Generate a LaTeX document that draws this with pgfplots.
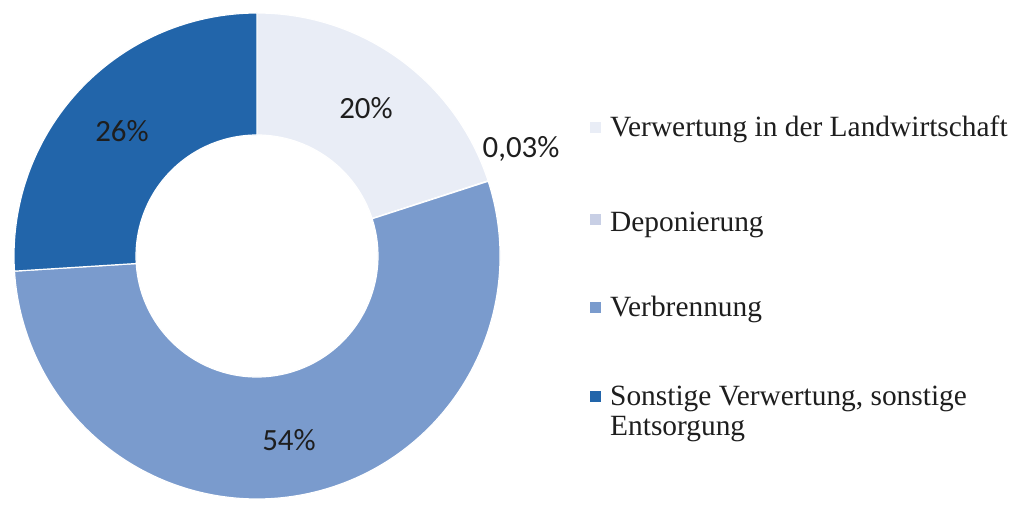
\documentclass[border=0pt]{standalone}
\usepackage{pgfplots}
\pgfplotsset{compat=1.18}
\usepackage{pgfplotstable}
\usepackage{fontspec}
\setmainfont{Liberation Serif}
\newfontfamily\calib{Carlito}
\definecolor{c1}{RGB}{233,237,246}
\definecolor{c2}{RGB}{200,207,229}
\definecolor{c3}{RGB}{122,155,205}
\definecolor{c4}{RGB}{34,101,170}
\definecolor{txt}{RGB}{30,30,30}

% value; colour; label text; label position (axis units = px, y up)
\pgfplotstableread[col sep=semicolon]{
value;color;label;lx;ly
20;c1;20;366;380
0.03;c2;0,03;521;341
54;c3;54;289;49
26;c4;26;122;357
}\data

\begin{document}
\begin{tikzpicture}
\begin{axis}[
  width=1018bp, height=499bp, scale only axis,
  xmin=0, xmax=1018, ymin=0, ymax=499,
  hide axis, clip=false,
]
\addplot[draw=none] coordinates {(0,0) (1018,499)};
\pgfplotsextra{
  \coordinate (C) at (axis cs:257,243);
  \pgfplotstablegetrowsof{\data}
  \pgfmathtruncatemacro\nrows{\pgfplotsretval-1}
  \def\total{0}
  \pgfplotsforeachungrouped \i in {0,...,\nrows}{%
    \pgfplotstablegetelem{\i}{value}\of{\data}\let\v\pgfplotsretval
    \pgfmathsetmacro\total{\total+\v}%
  }
  \pgfmathsetmacro\degper{360/\total}%
  \def\cum{0}
  \pgfplotsforeachungrouped \i in {0,...,\nrows}{%
    \pgfplotstablegetelem{\i}{value}\of{\data}\let\v\pgfplotsretval
    \pgfplotstablegetelem{\i}{color}\of{\data}\let\col\pgfplotsretval
    \pgfmathsetmacro\a{90-\degper*\cum}%
    \pgfmathsetmacro\b{90-\degper*(\cum+\v)}%
    \fill[fill=\col, draw=white, line width=1.2pt]
      ([shift={(\a:243bp)}]C) arc[start angle=\a, end angle=\b, radius=243bp]
      -- ([shift={(\b:121bp)}]C) arc[start angle=\b, end angle=\a, radius=121bp]
      -- cycle;
    \pgfmathsetmacro\cum{\cum+\v}%
  }
  \pgfplotsforeachungrouped \i in {0,...,\nrows}{%
    \pgfplotstablegetelem{\i}{label}\of{\data}\let\lab\pgfplotsretval
    \pgfplotstablegetelem{\i}{lx}\of{\data}\let\lx\pgfplotsretval
    \pgfplotstablegetelem{\i}{ly}\of{\data}\let\ly\pgfplotsretval
    \node[anchor=base, inner sep=0pt, text=txt, font=\calib\fontsize{31}{37}\selectfont]
      at (axis cs:\lx,\ly) {\lab\%};
  }
}
% legend
\pgfplotsextra{
  \begin{scope}[every node/.style={inner sep=0pt}]
  \fill[c1] (axis cs:590,366) rectangle (axis cs:601,377);
  \fill[c2] (axis cs:590,274) rectangle (axis cs:601,285);
  \fill[c3] (axis cs:590,186) rectangle (axis cs:601,197);
  \fill[c4] (axis cs:590,97) rectangle (axis cs:601,108);
  \node[anchor=base west, text=txt, font=\fontsize{29.5}{31}\selectfont] at (axis cs:610,362) {Verwertung in der Landwirtschaft};
  \node[anchor=base west, text=txt, font=\fontsize{29.5}{31}\selectfont] at (axis cs:610,267) {Deponierung};
  \node[anchor=base west, text=txt, font=\fontsize{29.5}{31}\selectfont] at (axis cs:610,182) {Verbrennung};
  \node[anchor=base west, text=txt, font=\fontsize{29.5}{31}\selectfont] at (axis cs:610,93) {Sonstige Verwertung, sonstige};
  \node[anchor=base west, text=txt, font=\fontsize{29.5}{31}\selectfont] at (axis cs:610,64) {Entsorgung};
  \end{scope}
}
\end{axis}
\end{tikzpicture}
\end{document}
